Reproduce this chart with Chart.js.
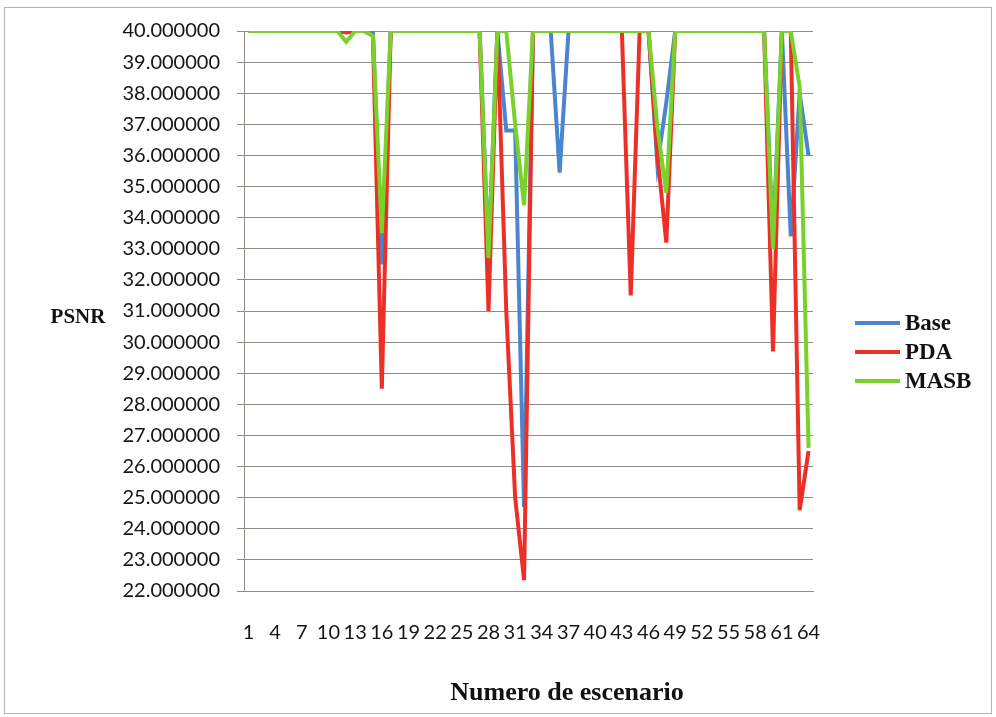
<!DOCTYPE html>
<html>
<head>
<meta charset="utf-8">
<script src="https://cdn.jsdelivr.net/npm/chart.js@4.4.1/dist/chart.umd.min.js"></script>
<style>
  html, body { margin: 0; padding: 0; background: #fff; }
  #wrap { width: 996px; height: 717px; position: relative; }
</style>
</head>
<body>
<div id="wrap"><canvas id="psnrChart"></canvas></div>
<script>
const escenarios = ['1','2','3','4','5','6','7','8','9','10','11','12','13','14','15','16',
  '17','18','19','20','21','22','23','24','25','26','27','28','29','30','31','32',
  '33','34','35','36','37','38','39','40','41','42','43','44','45','46','47','48',
  '49','50','51','52','53','54','55','56','57','58','59','60','61','62','63','64'];

const base = [40,40,40,40,40,40,40,40,40,40,40,40,40,40,40,32.5,
  40,40,40,40,40,40,40,40,40,40,40,32.8,40,36.8,36.8,24.7,
  40,40,40,35.45,40,40,40,40,40,40,40,40,40,40,35.7,37.7,
  40,40,40,40,40,40,40,40,40,40,40,33.2,40,33.4,38.0,36.0];

const pda = [40,40,40,40,40,40,40,40,40,40,40,39.95,40,40,39.85,28.5,
  40,40,40,40,40,40,40,40,40,40,40,31.0,40,31.0,25.0,22.35,
  40,40,40,40,40,40,40,40,40,40,40,31.5,40,40,36.0,33.2,
  40,40,40,40,40,40,40,40,40,40,40,29.7,40,40,24.6,26.5];

const masb = [40,40,40,40,40,40,40,40,40,40,40,39.65,40,40,39.85,33.5,
  40,40,40,40,40,40,40,40,40,40,40,32.7,40,40,37.0,34.4,
  40,40,40,40,40,40,40,40,40,40,40,40,40,40,36.9,34.8,
  40,40,40,40,40,40,40,40,40,40,40,33.0,40,40,38.2,26.6];

const gridColor = '#8e8e86';
const tickFont = { family: 'Lato', size: 20 };

// titles, legend and outer frame drawn on the canvas
const decor = {
  id: 'decor',
  beforeDraw(chart) {
    const c = chart.ctx;
    c.save();
    c.fillStyle = '#fff';
    c.fillRect(0, 0, chart.width, chart.height);
    c.strokeStyle = '#b4b4b4';
    c.lineWidth = 1;
    c.strokeRect(4.5, 7.5, 987, 706);
    c.restore();
  },
  afterDraw(chart) {
    const c = chart.ctx;
    c.save();
    c.fillStyle = '#111';
    c.textBaseline = 'middle';
    c.textAlign = 'center';
    c.font = 'bold 21px "Liberation Serif"';
    c.fillText('PSNR', 78, 318);
    c.font = 'bold 26px "Liberation Serif"';
    c.fillText('Numero de escenario', 567, 693);

    c.textAlign = 'left';
    c.font = 'bold 23px "Liberation Serif"';
    chart.data.datasets.forEach((ds, i) => {
      const y = 323 + i * 29;
      c.strokeStyle = ds.borderColor;
      c.lineWidth = 4;
      c.beginPath();
      c.moveTo(855, y);
      c.lineTo(900, y);
      c.stroke();
      c.fillText(ds.label, 905, y + 1);
    });
    c.restore();
  }
};

new Chart(document.getElementById('psnrChart'), {
  type: 'line',
  data: {
    labels: escenarios,
    datasets: [
      { label: 'Base', data: base, borderColor: '#4a86d0', order: 3 },
      { label: 'PDA', data: pda, borderColor: '#ec3028', order: 2 },
      { label: 'MASB', data: masb, borderColor: '#78d22a', order: 1 }
    ]
  },
  options: {
    responsive: true,
    maintainAspectRatio: false,
    animation: false,
    layout: { padding: { left: 0, top: 31, right: 183, bottom: 0 } },
    elements: {
      line: { borderWidth: 4, tension: 0, borderJoinStyle: 'miter' },
      point: { radius: 0, hoverRadius: 0 }
    },
    plugins: {
      legend: { display: false },
      tooltip: { enabled: false }
    },
    scales: {
      x: {
        offset: true,
        grid: { display: false, drawTicks: false },
        border: { display: true, color: gridColor },
        ticks: {
          autoSkip: false,
          maxRotation: 0,
          padding: 30,
          color: '#151515',
          font: tickFont,
          callback: function (v, i) { return i % 3 === 0 ? this.getLabelForValue(v) : ''; }
        },
        afterFit(scale) { scale.height = 126; }
      },
      y: {
        min: 22,
        max: 40,
        grid: { color: gridColor, tickLength: 7 },
        border: { display: true, color: gridColor },
        ticks: {
          stepSize: 1,
          padding: 17,
          color: '#151515',
          font: tickFont,
          callback: v => v.toFixed(6)
        },
        afterFit(scale) { scale.width = 244; }
      }
    }
  },
  plugins: [decor]
});
</script>
</body>
</html>
